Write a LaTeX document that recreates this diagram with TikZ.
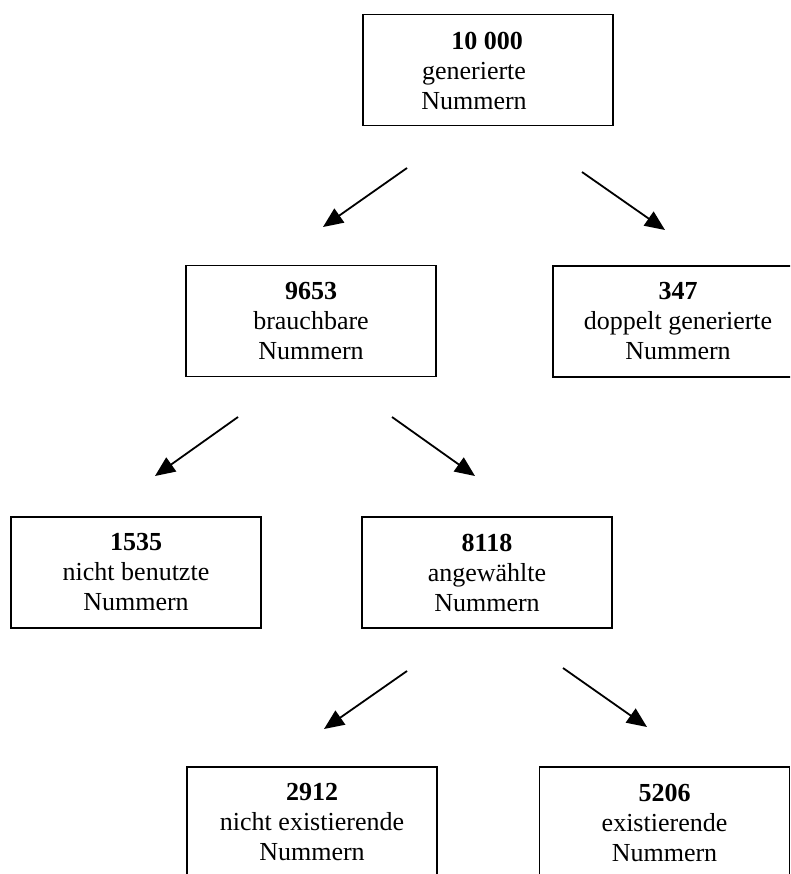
\documentclass[tikz,border=0pt]{standalone}
\usepackage{fontspec}
\setmainfont{Liberation Serif}
\usetikzlibrary{arrows.meta}
\begin{document}
\begin{tikzpicture}[x=1pt,y=-1pt,
  txt/.style={inner sep=0pt,align=center,font=\fontsize{26}{30}\selectfont},
  box/.style={txt,draw=black,line width=1.8pt,rectangle,minimum width=250pt,minimum height=111pt},
  arr/.style={line width=1.8pt,-{Triangle[length=20pt,width=17pt]}}]
\path[use as bounding box,clip] (0,0) rectangle (790,874);
\fill[white] (0,0) rectangle (790,874);
\node[box] (A) at (488,70) {};
\node[txt] (At) at (474,71) {\hspace*{26pt}\textbf{10 000}\\generierte\\Nummern};
\node[box] (B) at (311,321) {\textbf{9653}\\brauchbare\\Nummern};
\node[box] (C) at (678,321.5) {\textbf{347}\\doppelt generierte\\Nummern};
\node[box] (D) at (136,572.5) {\textbf{1535}\\nicht benutzte\\Nummern};
\node[box] (E) at (487,572.5) {\textbf{8118}\\angewählte\\Nummern};
\node[box] (F) at (312,822.5) {\textbf{2912}\\nicht existierende\\Nummern};
\node[box] (G) at (664.5,822.5) {\textbf{5206}\\existierende\\Nummern};
\coordinate (a1s) at (407,168); \coordinate (a1e) at (323,227);
\coordinate (a2s) at (582,172); \coordinate (a2e) at (665,230);
\coordinate (b1s) at (238,417); \coordinate (b1e) at (155,476);
\coordinate (b2s) at (392,417); \coordinate (b2e) at (475,476);
\coordinate (e1s) at (407,671); \coordinate (e1e) at (324,729);
\coordinate (e2s) at (563,668); \coordinate (e2e) at (647,727);
\draw[arr] (a1s) -- (a1e);
\draw[arr] (a2s) -- (a2e);
\draw[arr] (b1s) -- (b1e);
\draw[arr] (b2s) -- (b2e);
\draw[arr] (e1s) -- (e1e);
\draw[arr] (e2s) -- (e2e);
\end{tikzpicture}
\end{document}
